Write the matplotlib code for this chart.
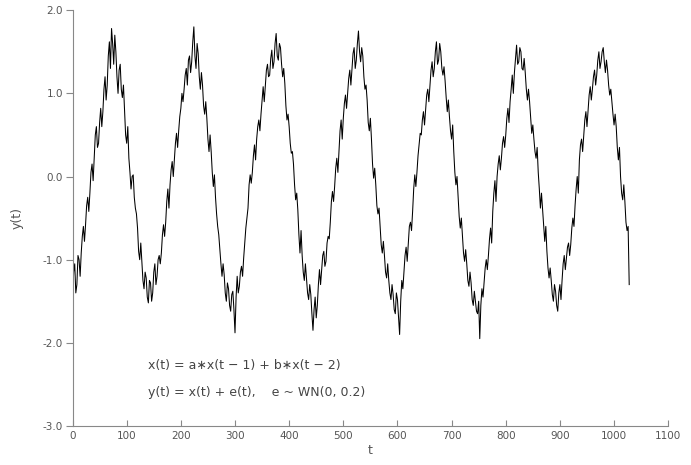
import numpy as np
import matplotlib
matplotlib.use("Agg")
import matplotlib.pyplot as plt

# y(t) at t = 0, 4, ..., 1028
y_even = [
    -1.5, -1.05, -1.3, -1.0, -0.92, -0.6, -0.58, -0.25, -0.2, 0.15,
    0.22, 0.6, 0.4, 0.82, 0.78, 1.2, 1.1, 1.62, 1.78, 1.35,
    1.5, 1.0, 1.35, 0.95, 0.8, 0.4, 0.22, -0.15, 0.02, -0.38,
    -0.62, -1.0, -1.02, -1.35, -1.22, -1.52, -1.28, -1.4, -1.05, -1.2,
    -0.95, -0.92, -0.58, -0.55, -0.15, -0.1, 0.18, 0.2, 0.52, 0.55,
    0.82, 0.9, 1.22, 1.1, 1.45, 1.38, 1.8, 1.3, 1.48, 1.05,
    1.1, 0.75, 0.7, 0.3, 0.3, -0.12, -0.25, -0.6, -0.88, -1.2,
    -1.18, -1.5, -1.35, -1.62, -1.38, -1.88, -1.2, -1.32, -1.08, -0.98,
    -0.62, -0.38, 0.02, 0.05, 0.38, 0.45, 0.68, 0.75, 1.08, 1.1,
    1.35, 1.22, 1.52, 1.38, 1.72, 1.4, 1.55, 1.2, 1.12, 0.68,
    0.6, 0.28, 0.15, -0.28, -0.4, -0.92, -0.95, -1.25, -1.22, -1.48,
    -1.42, -1.85, -1.45, -1.55, -1.12, -1.12, -0.9, -1.02, -0.72, -0.55,
    -0.18, -0.12, 0.22, 0.3, 0.68, 0.7, 0.98, 1.0, 1.28, 1.3,
    1.55, 1.4, 1.75, 1.38, 1.45, 1.05, 0.92, 0.55, 0.45, -0.02,
    -0.1, -0.45, -0.6, -0.92, -0.95, -1.22, -1.25, -1.48, -1.42, -1.65,
    -1.48, -1.9, -1.25, -1.15, -0.85, -0.8, -0.55, -0.42, 0.02, 0.05,
    0.38, 0.5, 0.78, 0.8, 1.05, 1.1, 1.38, 1.3, 1.62, 1.4,
    1.5, 1.22, 1.15, 0.78, 0.72, 0.45, 0.3, -0.1, -0.25, -0.62,
    -0.7, -1.02, -1.05, -1.32, -1.28, -1.55, -1.5, -1.65, -1.95, -1.35,
    -1.28, -1.0, -0.95, -0.62, -0.42, -0.05, 0.0, 0.25, 0.22, 0.48,
    0.5, 0.82, 0.9, 1.22, 1.25, 1.58, 1.38, 1.5, 1.28, 1.25,
    0.92, 0.9, 0.52, 0.45, 0.22, 0.05, -0.38, -0.4, -0.78, -0.9,
    -1.22, -1.25, -1.5, -1.38, -1.62, -1.3, -1.25, -0.95, -0.98, -0.8,
    -0.82, -0.5, -0.35, 0.0, 0.2, 0.45, 0.5, 0.78, 0.8, 1.08,
    1.05, 1.28, 1.22, 1.5, 1.38, 1.55, 1.25, 1.28, 0.98, 0.9,
    0.62, 0.6, 0.2, 0.0, -0.28, -0.3, -0.65, -1.3,
]
# and at t = 2, 6, ..., 1026
y_odd = [
    -1.15, -1.4, -0.95, -1.2, -0.72, -0.78, -0.35, -0.42, 0.05, -0.05,
    0.5, 0.35, 0.65, 0.6, 1.05, 0.92, 1.45, 1.3, 1.6, 1.7,
    1.2, 1.28, 1.05, 1.1, 0.5, 0.6, 0.05, 0.0, -0.25, -0.45,
    -0.9, -0.8, -1.25, -1.15, -1.45, -1.25, -1.5, -1.15, -1.3, -1.0,
    -1.05, -0.7, -0.72, -0.3, -0.38, 0.08, 0.0, 0.4, 0.35, 0.72,
    1.0, 1.05, 1.3, 1.4, 1.25, 1.62, 1.45, 1.6, 1.2, 1.25,
    0.85, 0.9, 0.45, 0.5, 0.05, 0.02, -0.45, -0.7, -1.05, -1.05,
    -1.4, -1.28, -1.55, -1.42, -1.6, -1.45, -1.4, -1.15, -1.2, -0.8,
    -0.5, -0.1, -0.08, 0.25, 0.2, 0.6, 0.55, 0.92, 0.9, 1.28,
    1.2, 1.42, 1.3, 1.6, 1.45, 1.6, 1.35, 1.3, 0.85, 0.75,
    0.4, 0.3, -0.1, -0.2, -0.7, -0.65, -1.15, -1.05, -1.4, -1.3,
    -1.65, -1.6, -1.7, -1.3, -1.3, -0.95, -1.08, -0.8, -0.75, -0.3,
    -0.3, 0.1, 0.05, 0.55, 0.45, 0.88, 0.82, 1.18, 1.1, 1.48,
    1.3, 1.6, 1.5, 1.55, 1.2, 1.1, 0.65, 0.7, 0.15, 0.1,
    -0.35, -0.38, -0.82, -0.78, -1.15, -1.05, -1.4, -1.3, -1.6, -1.4,
    -1.7, -1.5, -1.35, -0.95, -1.02, -0.6, -0.65, -0.15, -0.12, 0.25,
    0.52, 0.68, 0.62, 0.98, 0.9, 1.28, 1.2, 1.5, 1.35, 1.6,
    1.3, 1.32, 0.95, 0.92, 0.55, 0.62, 0.05, 0.0, -0.48, -0.5,
    -0.92, -0.88, -1.25, -1.15, -1.48, -1.38, -1.62, -1.5, -1.55, -1.45,
    -1.1, -1.12, -0.75, -0.8, -0.2, -0.3, 0.15, 0.08, 0.4, 0.35,
    0.7, 0.65, 1.05, 1.0, 1.42, 1.35, 1.55, 1.3, 1.42, 1.05,
    1.05, 0.7, 0.62, 0.3, 0.35, -0.15, -0.2, -0.62, -0.6, -1.1,
    -1.1, -1.42, -1.3, -1.55, -1.4, -1.48, -1.05, -1.12, -0.85, -0.95,
    -0.62, -0.6, -0.15, -0.2, 0.38, 0.3, 0.68, 0.6, 0.98, 0.92,
    1.2, 1.1, 1.4, 1.3, 1.5, 1.38, 1.4, 1.1, 1.05, 0.75,
    0.75, 0.35, 0.35, -0.2, -0.1, -0.55, -0.6,
]

y_vals = np.empty(len(y_even) + len(y_odd))
y_vals[0::2] = y_even
y_vals[1::2] = y_odd
t_vals = np.arange(len(y_vals)) * 2

x_ticks = [0, 100, 200, 300, 400, 500, 600, 700, 800, 900, 1000, 1100]
y_ticks = [-3.0, -2.0, -1.0, 0.0, 1.0, 2.0]
eq_lines = ["x(t) = a\u2217x(t \u2212 1) + b\u2217x(t \u2212 2)",
            "y(t) = x(t) + e(t),    e ~ WN(0, 0.2)"]

fig = plt.figure(figsize=(6.91, 4.65), dpi=100)
ax = fig.add_axes([0.105, 0.084, 0.862, 0.894])

ax.plot(t_vals, y_vals, color="black", lw=0.75)

ax.set_xlim(0, 1100)
ax.set_ylim(-3, 2)
ax.set_xticks(x_ticks)
ax.set_yticks(y_ticks)
ax.set_yticklabels(["%.1f" % v for v in y_ticks])

for s in ["top", "right"]:
    ax.spines[s].set_visible(False)
for s in ["left", "bottom"]:
    ax.spines[s].set_color("#888888")
    ax.spines[s].set_linewidth(0.8)

ax.tick_params(axis="x", direction="in", length=4, width=0.8, color="#888888",
               labelsize=7.5, labelcolor="#555555", pad=4)
ax.tick_params(axis="y", direction="out", length=5, width=0.8, color="#888888",
               labelsize=7.5, labelcolor="#555555", pad=2)

ax.set_xlabel("t", fontsize=9, color="#555555", labelpad=2)
ax.set_ylabel("y(t)", fontsize=9, color="#555555", labelpad=14)

ax.text(140, -2.27, eq_lines[0], fontsize=9, color="#444444", va="center")
ax.text(140, -2.60, eq_lines[1], fontsize=9, color="#444444", va="center")

fig.savefig("out.png", dpi=100)
